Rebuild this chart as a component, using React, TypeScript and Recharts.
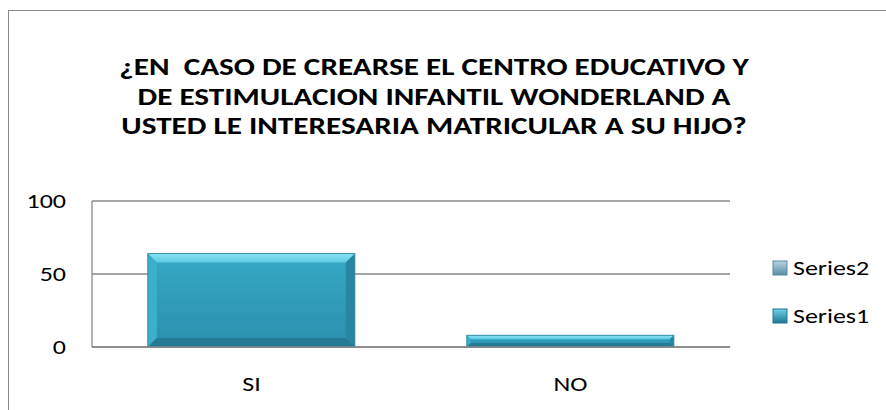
import React from 'react';
import { BarChart, Bar, XAxis, YAxis, CartesianGrid } from 'recharts';

const categories = ['SI', 'NO'];
const series1 = [64, 8];
const series2 = [0, 0];
const yTicks = [0, 50, 100];
const legendLabels = ['Series2', 'Series1'];
const titleLines = [
  '¿EN  CASO DE CREARSE EL CENTRO EDUCATIVO Y',
  'DE ESTIMULACION INFANTIL WONDERLAND A',
  'USTED LE INTERESARIA MATRICULAR A SU HIJO?',
];

const data = categories.map((name, i) => ({
  name,
  s1: series1[i],
  s2: series2[i],
}));

// the original picture is stretched sideways
const SX = 1.3;
const FONT = "Calibri, Carlito, 'Open Sans', sans-serif";

function StretchText({ x, y, anchor, size, bold, children }: any) {
  return (
    <text
      transform={`translate(${x},${y}) scale(${SX},1)`}
      textAnchor={anchor}
      fontFamily={FONT}
      fontWeight={bold ? 'bold' : 'normal'}
      fontSize={size}
      fill="#000"
      style={{ whiteSpace: 'pre' }}
    >
      {children}
    </text>
  );
}

function YTick(props: any) {
  const { x, y, payload } = props;
  return (
    <StretchText x={x} y={y + 7} anchor="end" size={20}>
      {payload.value}
    </StretchText>
  );
}

function XTick(props: any) {
  const { x, payload } = props;
  // axis line sits at y=347
  return (
    <StretchText x={x} y={391} anchor="middle" size={20}>
      {payload.value}
    </StretchText>
  );
}

function BevelBar(props: any) {
  const { x, y, width, height } = props;
  if (!height || height <= 0) return null;
  const b = Math.min(9, height / 3);
  const x2 = x + width;
  const y2 = y + height;
  return (
    <g>
      <rect x={x} y={y} width={width} height={height} fill="url(#barBody)" />
      <polygon
        points={`${x},${y} ${x2},${y} ${x2 - b},${y + b} ${x + b},${y + b}`}
        fill="url(#barTop)"
      />
      <polygon
        points={`${x},${y} ${x + b},${y + b} ${x + b},${y2 - b} ${x},${y2}`}
        fill="#3bb0cd"
      />
      <polygon
        points={`${x2},${y} ${x2 - b},${y + b} ${x2 - b},${y2 - b} ${x2},${y2}`}
        fill="#2886a2"
      />
      <polygon
        points={`${x},${y2} ${x + b},${y2 - b} ${x2 - b},${y2 - b} ${x2},${y2}`}
        fill="#257a93"
      />
      <rect
        x={x}
        y={y}
        width={width}
        height={height}
        fill="none"
        stroke="#3a8ea6"
        strokeWidth={1}
      />
    </g>
  );
}

const legendColors = [
  { top: '#b9d5e2', bottom: '#5a8aa3' },
  { top: '#6fd3ea', bottom: '#1f7690' },
];

function LegendBox() {
  return (
    <svg width={120} height={100}>
      <defs>
        {legendColors.map((c, i) => (
          <linearGradient key={i} id={`lg${i}`} x1="0" y1="0" x2="0" y2="1">
            <stop offset="0%" stopColor={c.top} />
            <stop offset="100%" stopColor={c.bottom} />
          </linearGradient>
        ))}
      </defs>
      {legendLabels.map((label, i) => (
        <g key={label}>
          <rect
            x={1}
            y={17 + i * 48}
            width={14}
            height={14}
            fill={`url(#lg${i})`}
            stroke={legendColors[i].bottom}
          />
          <StretchText x={21} y={31 + i * 48} anchor="start" size={20}>
            {label}
          </StretchText>
        </g>
      ))}
    </svg>
  );
}

export default function App() {
  return (
    <div
      style={{
        position: 'absolute',
        left: 0,
        top: 0,
        width: 886,
        height: 410,
        background: '#fff',
        overflow: 'hidden',
      }}
    >
      <div
        style={{
          position: 'absolute',
          left: 8,
          top: 10,
          width: 900,
          height: 420,
          border: '1.5px solid #8a8a8a',
          boxSizing: 'border-box',
        }}
      />
      <svg
        width={886}
        height={160}
        style={{ position: 'absolute', left: 0, top: 0 }}
      >
        {titleLines.map((t, i) => (
          <StretchText key={i} x={434} y={75 + i * 29.5} anchor="middle" size={24} bold>
            {t}
          </StretchText>
        ))}
      </svg>
      <div style={{ position: 'absolute', left: 0, top: 0 }}>
        <BarChart
          width={886}
          height={410}
          data={data}
          margin={{ top: 201, right: 156, bottom: 0, left: 0 }}
          barCategoryGap="17.5%"
        >
          <defs>
            <linearGradient id="barBody" x1="0" y1="0" x2="0" y2="1">
              <stop offset="0%" stopColor="#35a8c5" />
              <stop offset="100%" stopColor="#2b8fad" />
            </linearGradient>
            <linearGradient id="barTop" x1="0" y1="0" x2="0" y2="1">
              <stop offset="0%" stopColor="#8ae3f5" />
              <stop offset="100%" stopColor="#5ccbe4" />
            </linearGradient>
          </defs>
          <CartesianGrid
            horizontal
            vertical={false}
            stroke="#878787"
            strokeWidth={1.3}
          />
          <XAxis
            dataKey="name"
            height={63}
            axisLine={{ stroke: '#878787', strokeWidth: 1.3 }}
            tickLine={false}
            tick={<XTick />}
          />
          <YAxis
            width={92}
            domain={[0, 100]}
            ticks={yTicks}
            axisLine={{ stroke: '#878787', strokeWidth: 1.3 }}
            tickLine={false}
            tickSize={0}
            tickMargin={26}
            tick={<YTick />}
          />
          <Bar
            dataKey="s1"
            name="Series1"
            stackId="a"
            shape={BevelBar}
            isAnimationActive={false}
          />
          <Bar
            dataKey="s2"
            name="Series2"
            stackId="a"
            shape={BevelBar}
            isAnimationActive={false}
          />
        </BarChart>
      </div>
      <div style={{ position: 'absolute', left: 772, top: 244 }}>
        <LegendBox />
      </div>
    </div>
  );
}
